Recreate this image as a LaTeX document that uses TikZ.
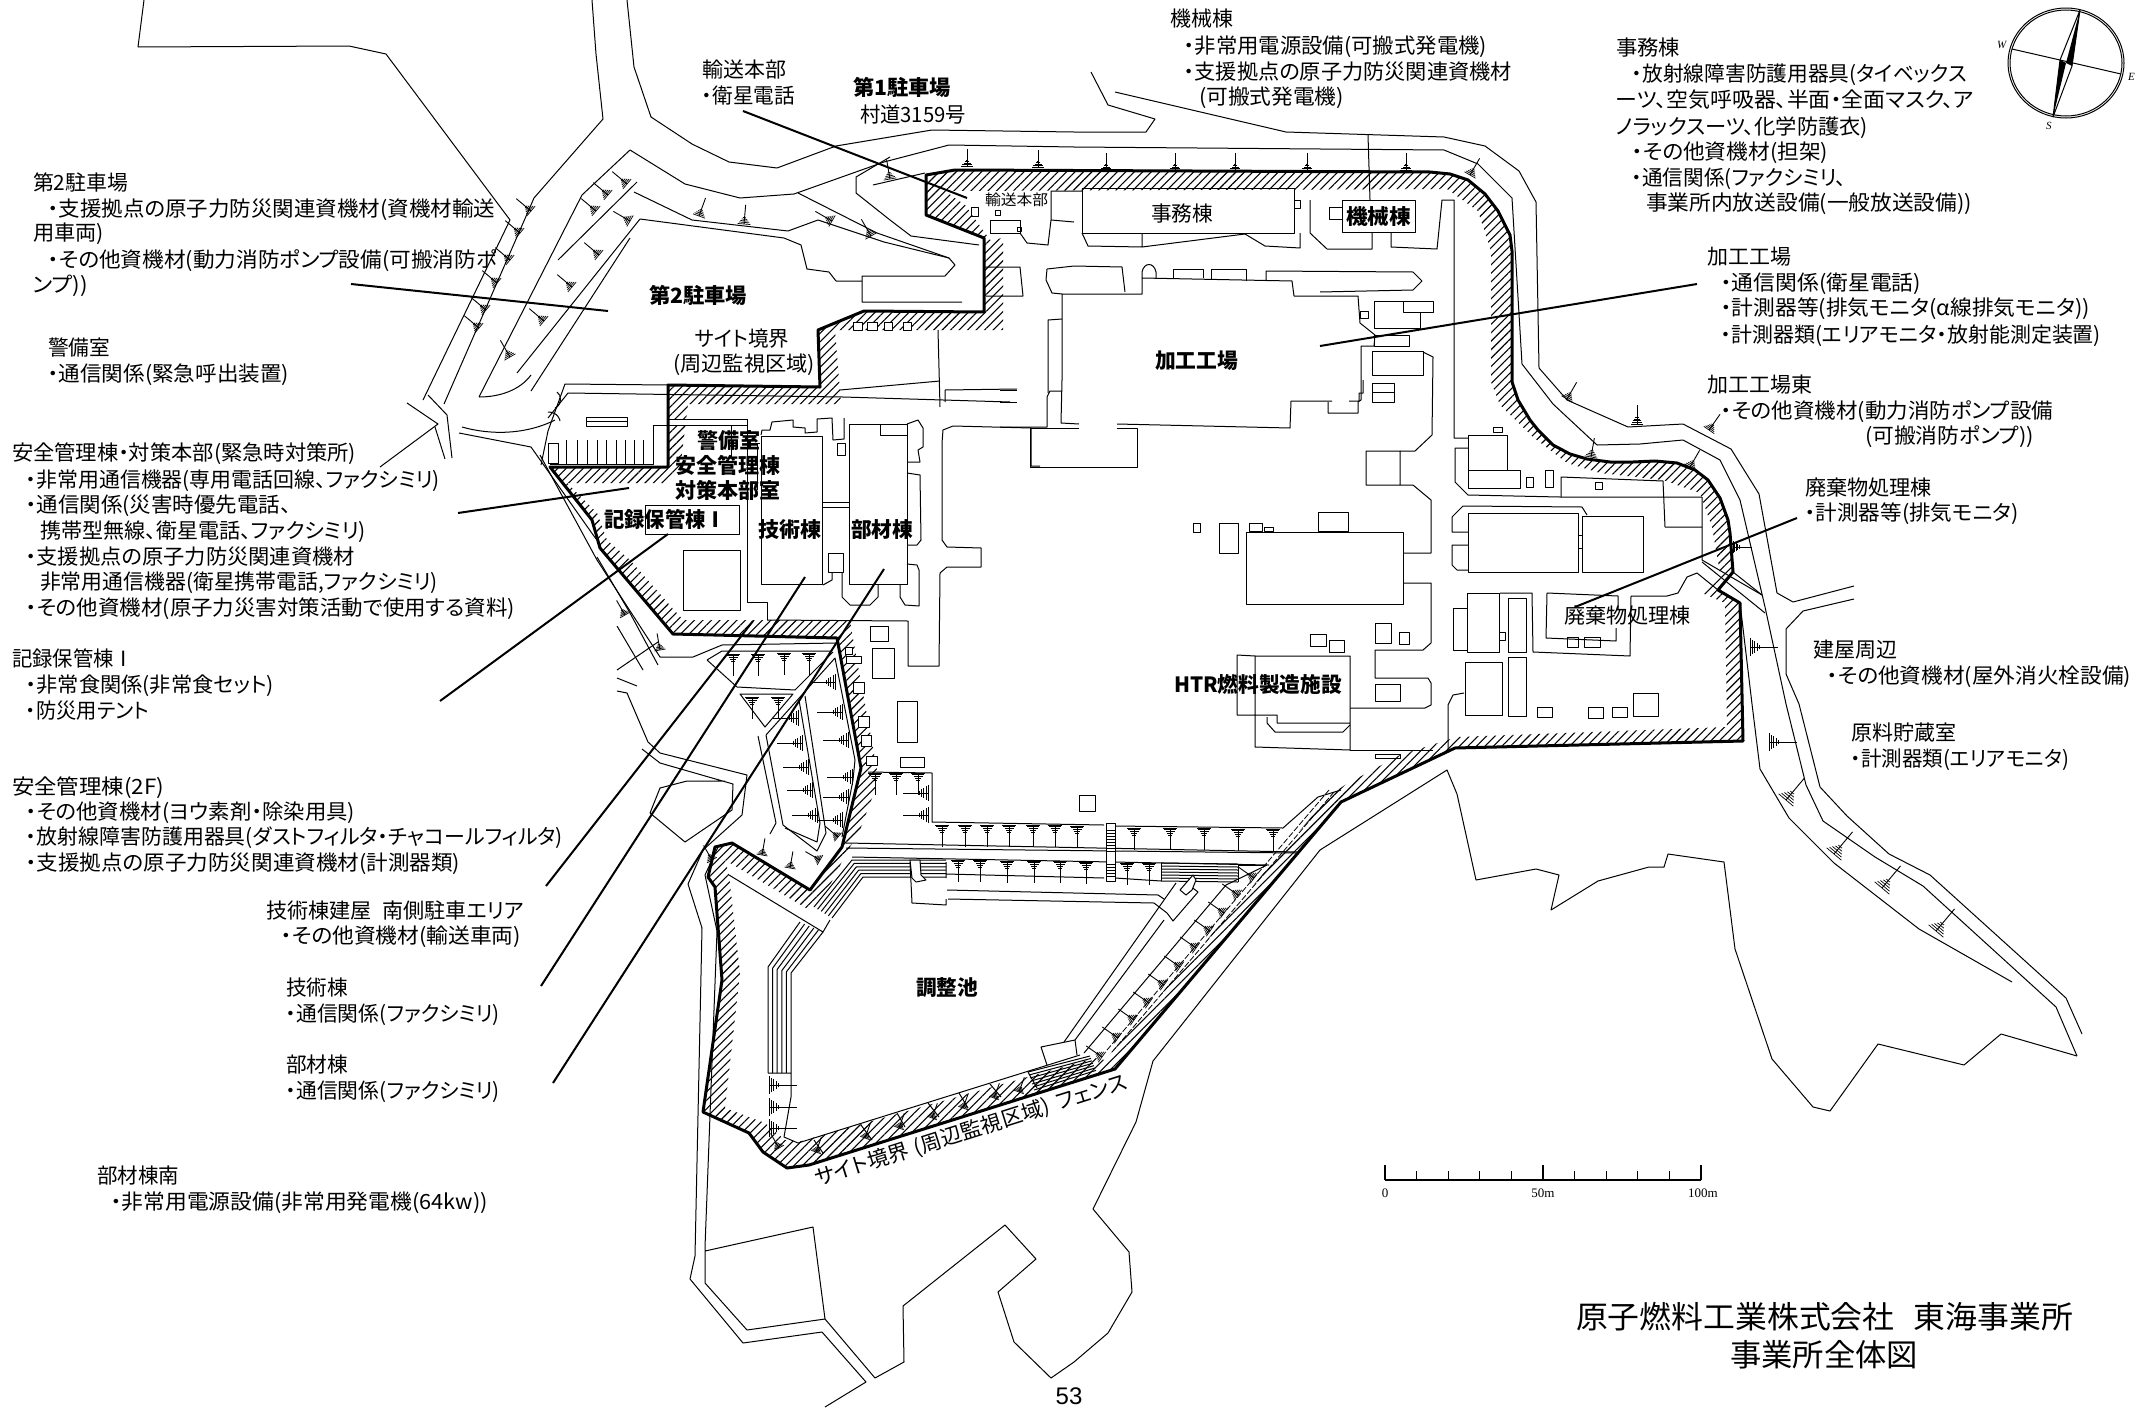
\documentclass[tikz,border=0pt]{standalone}
\usepackage{fontspec}
\usepackage{graphicx}
\usetikzlibrary{patterns.meta}
\newfontfamily\jp[RawFeature={+palt}]{Noto Sans CJK JP}
\newfontfamily\latserif{Liberation Serif}
\newfontfamily\latsans{Liberation Sans}
\newcounter{txn}
\newsavebox\fitbox
% fit text to a width given in picture pixels (1 px = 0.5pt)
\newcommand\fitw[2]{\sbox\fitbox{#2}\pgfmathsetmacro\fitsx{(#1)*0.5/\the\wd\fitbox}\scalebox{\fitsx}[1]{\usebox\fitbox}}
\newcommand\txtL[4]{\stepcounter{txn}\node[lab] (txt\thetxn) at (#1,#3+7.5) {\fitw{#2-#1}{\jp\fontsize{10.5}{12}\selectfont #4}};}
\newcommand\txtB[4]{\stepcounter{txn}\node[lab] (txt\thetxn) at (#1,#3+7.5) {\fitw{#2-#1}{\jp\bfseries\fontsize{10.5}{12}\selectfont #4}};}
\newcommand\txtH[4]{\stepcounter{txn}\node[lab] (txt\thetxn) at (#1,#3+11) {\fitw{#2-#1}{\jp\fontsize{15.5}{18}\selectfont #4}};}
% slope symbol: x y rotation scale
\newcommand\slopeT[4]{\begin{scope}[shift={(#1,#2)},rotate=#3,scale=#4]
\draw[line width=.35pt] (-8,0)--(8,0) (-6.5,2)--(6.5,2) (-5,4)--(5,4) (-3.5,6)--(3.5,6) (-2,8)--(2,8);
\draw[line width=.45pt] (0,0)--(0,24);
\end{scope}}
\newcommand\boxat[4]{\draw[fill=white] (#1,#2) rectangle (#3,#4);}
\tikzset{
 lab/.style={anchor=base west,inner sep=0pt,outer sep=0pt},
 ln/.style={line width=.5pt,line join=round},
 bound/.style={line width=1.5pt,line join=round},
 leader/.style={line width=1pt},
 hatchband/.style={pattern={Lines[angle=45,distance=3pt,line width=.55pt]},even odd rule}
}
\begin{document}
\begin{tikzpicture}[x=.5pt,y=-.5pt]
\useasboundingbox (0,0) rectangle (2147,1408);
\fill[white] (0,0) rectangle (2147,1408);
\begin{scope}[ln]
% hatch band
\fill[hatchband]
 (926,175)--(926,215)--(984,238)--(984,312)--(864,311)--(818,330)--(820,387)--(668,385)--(668,467)--(550,467)--(592,520)--(600,548)--(673,634)--(837,638)--(861,768)--(842,847)--(810,890)--(732,843)--(715,847)--(708,877)--(715,887)--(722,980)--(703,1112)--(749,1133)--(763,1152)--(787,1168)--(809,1165)--(1115,1069)--(1341,802)--(1455,748)--(1743,741)--(1740,603)--(1718,590)--(1733,572)--(1730,533)--(1728,520)--(1720,498)--(1708,480)--(1695,470)--(1677,463)--(1655,461)--(1633,462)--(1610,462)--(1587,459)--(1570,454)--(1553,445)--(1538,430)--(1530,420)--(1518,400)--(1512,382)--(1512,251)--(1510,235)--(1498,211)--(1485,194)--(1468,180)--(1450,174)--(1430,172)--(955,170)--cycle
 (945,191)--(1447,189)--(1478,211)--(1491,251)--(1491,382)--(1500,405)--(1533,437)--(1567,463)--(1600,473)--(1663,480)--(1700,493)--(1712,527)--(1720,573)--(1702,593)--(1725,603)--(1727,727)--(1457,737)--(1400,755)--(1345,785)--(1330,795)--(1105,1060)--(1095,1058)--(798,1142)--(785,1140)--(765,1123)--(725,1108)--(740,973)--(729,875)--(725,860)--(806,908)--(830,885)--(847,852)--(860,830)--(875,790)--(877,770)--(852,633)--(850,620)--(683,620)--(630,560)--(607,540)--(597,513)--(567,483)--(663,483)--(680,470)--(688,404)--(841,404)--(835,330)--(1003,330)--(1003,238)--(990,240)--(965,205)--cycle;
% contours NW
\draw (144,0)--(138,47)--(349,46)--(386,54)--(510,220)--(423,400);
\draw (592,0)--(596,54)--(603,119)--(534,198)--(444,404);
\draw (627,0)--(634,67)--(651,117)--(692,144)--(729,162)--(777,168)--(836,146)--(932,130)--(1074,132)--(1146,132)--(1155,119)--(1108,105)--(1091,72);
\draw (1115,92)--(1286,132)--(1444,137)--(1485,146)--(1519,171)--(1536,202)--(1539,368)--(1567,400)--(1628,427)--(1683,424)--(1731,449)--(1759,494)--(1777,593)--(1793,602)--(1854,586);
\draw (1854,599)--(1803,611)--(1786,629)--(1786,674)--(1799,704)--(1820,787)--(1847,816)--(1889,854)--(1930,875)--(2066,998)--(2082,1034);
\draw (1074,147)--(949,145)--(884,162)--(794,194)--(740,198)--(685,184)--(630,150)--(582,195)--(479,397);
\draw (1074,147)--(1444,150)--(1478,164)--(1512,198)--(1519,314)--(1522,364)--(1553,404)--(1597,445)--(1640,444)--(1683,440)--(1720,460)--(1740,500)--(1765,607)--(1786,704)--(1806,785)--(1823,821)--(1875,857)--(1923,886)--(2056,1007)--(2077,1056);
\draw (1740,603)--(1752,704)--(1760,769)--(1789,818)--(1834,863)--(1919,929)--(2012,982);
\draw (637,182)--(558,260);
\draw (640,219)--(517,373);
\draw (630,238)--(531,391);
\draw (479,397) .. controls (500,397) and (520,390) .. (531,375);
\draw (634,192)--(692,220)--(788,231)--(818,220)--(884,242)--(949,258)--(955,265)--(945,276)--(862,276)--(862,302)--(962,302);
\draw (640,219)--(784,238)--(801,245)--(807,269)--(829,272)--(836,281)--(862,281);
\draw (798,193)--(877,233)--(949,258);
\draw (890,157)--(856,177)--(856,193)--(890,220)--(911,236)--(979,245);
\draw (873,185)--(925,173);
% west crossing
\draw (407,403)--(438,424)--(380,467);
\draw (428,395)--(447,415)--(452,458);
\draw (435,427)--(445,459);
\draw (459,433)--(531,447)--(596,539);
\draw (462,427) .. controls (490,435) and (525,435) .. (555,420);
\draw (541,465)--(548,431)--(565,384)--(668,385);
\draw (548,418)--(568,393)--(843,397)--(1010,402);
\draw (840,390)--(940,381);
\draw (938,330)--(940,407);
\draw (945,402)--(945,390)--(1017,389);
\draw (557,392) .. controls (562,395) and (562,405) .. (555,408) (548,412) .. controls (558,412) and (560,420) .. (560,421);
% parking
\draw (550,464)--(653,464)--(653,425)--(668,425);
\draw (548,443) rectangle (558,463);
\foreach \x in {566,577,587,597,606,616,625,634,643} {\draw (\x,440)--(\x,464);}
\draw (586,417) rectangle (627,426) (586,421)--(627,421);
% west lower lines
\draw (540,455)--(597,560)--(660,657)--(693,657)--(722,645)--(837,643);
\draw (597,557)--(630,613)--(658,665);
\draw (617,626)--(643,670);
\draw (617,670)--(658,642);
\draw (617,678)--(637,686);
\draw (617,691)--(627,693)--(648,742)--(660,753)--(747,775)--(742,815)--(703,850)--(688,884)--(702,928)--(695,1256)--(690,1279)--(743,1343)--(822,1332)--(866,1382)--(825,1407);
\draw (642,749)--(660,763)--(733,784)--(732,810)--(685,842)--(650,813)--(660,788)--(687,781)--(725,781);
\draw (718,847)--(705,875)--(717,931)--(705,1247)--(705,1283)--(747,1330)--(825,1319)--(813,1227)--(705,1251);
\draw (825,1319)--(875,1378)--(904,1362)--(903,1306)--(1005,1225)--(1036,1259)--(998,1292)--(1014,1342)--(1051,1378)--(1074,1362)--(1108,1333)--(1132,1292)--(1129,1252)--(1093,1209)--(1136,1122)--(1153,1061)--(1320,850)--(1447,770)--(1457,794)--(1476,880)--(1536,869)--(1559,875)--(1551,910)--(1598,881)--(1649,867)--(1664,867)--(1668,854)--(1724,862)--(1735,949)--(1772,1059)--(1813,1107)--(1830,1111)--(1878,1044)--(1964,1065)--(2001,1034)--(2077,1056);
% lower parking island
\draw (707,660)--(722,651)--(830,651) (707,660)--(737,687)--(795,690)--(833,652);
\draw (740,694)--(793,694)--(765,727)--cycle;
\draw (766,735)--(835,658)--(855,760)--(853,780)--(842,837);
\draw (758,736)--(776,823)--(770,834);
\draw (766,735)--(783,825)--(817,851)--(826,833)--(805,696);
\draw (799,700)--(820,823)--(817,842)--(785,828);
% buildings centre-west
\draw[fill=white] (668,419)--(747,419)--(747,425)--(668,425);
\draw (747,419)--(747,602)--(767,602)--(767,620);
\draw (731,425)--(731,458);
\draw (747,443)--(760,443) (757,443)--(757,490);
\draw[fill=white] (645,505) rectangle (739,534);
\draw (683,550) rectangle (740,610);
\draw (761,436) rectangle (822,584);
\draw (761,435)--(762,430)--(770,430)--(772,422)--(793,420)--(793,427)--(805,428)--(805,433)--(817,432)--(817,419)--(832,418)--(833,440)--(844,439)--(844,418);
\draw (849,424) rectangle (907,584);
\draw (880,424)--(880,435)--(907,435);
\draw (822,502)--(849,502) (822,507)--(849,507);
\draw (828,553) rectangle (843,572);
\draw (837,443) rectangle (845,455);
\draw (907,424)--(918,420)--(923,428)--(923,447)--(918,450)--(920,462)--(907,462);
\draw (907,473)--(920,475)--(921,540)--(917,545)--(907,545);
\draw (907,564)--(917,565)--(919,570)--(919,606)--(905,605)--(900,597)--(900,584);
\draw (878,584)--(878,597)--(870,605)--(850,605)--(842,597)--(842,572);
\draw (832,572)--(832,580)--(823,585);
\draw (942,443)--(942,540)--(947,547)--(981,548)--(981,567)--(947,567)--(940,573)--(939,666)--(908,666)--(908,621)--(767,620);
\draw (942,443)--(943,430)--(953,426)--(1031,428)--(1031,466)--(1040,466);
\boxat{870}{626}{888}{641}
\boxat{872}{648}{894}{678}
\boxat{897}{701}{917}{742}
\boxat{900}{757}{924}{767}
\boxat{845}{647}{852}{654}
\boxat{846}{656}{861}{663}
\boxat{853}{682}{864}{693}
\boxat{858}{716}{869}{727}
\boxat{861}{735}{871}{746}
\boxat{866}{756}{877}{765}
\boxat{853}{322}{862}{330}
\boxat{867}{322}{877}{330}
\boxat{884}{322}{892}{330}
\boxat{903}{322}{911}{330}
% row lines
\draw (868,772)--(932,773)--(932,822)--(1104,825) (1115,826)--(1283,828)--(1318,797)--(1341,790);
\draw (846,843)--(1298,852);
\draw (846,848)--(1296,853);
\draw (852,857)--(1269,865);
\draw (946,874)--(1104,878) (946,862)--(946,878);
\draw (947,890)--(1158,895)--(1164,899);
\draw (948,899)--(1154,903)--(1167,913)--(1173,921)--(1198,892)--(1186,883);
\draw (1064,1042)--(1176,883);
\draw (1075,1040)--(1164,920);
\draw (910,862)--(912,903)--(946,905)--(946,899);
\draw (1115,878)--(1161,881);
\draw (1267,865)--(1226,885)--(1084,1053);
\boxat{1079}{795}{1095}{811}
% stairs
\foreach \i in {0,...,5} {
 \draw ({768+\i*4.6},1073)--({768+\i*4.6},{967+\i*1.2})--({800+\i*4.6},{922+\i*2});
 \draw ({814+\i*3.6},{907+\i*2.2})--({852+\i*2.2},{860+\i*3.4})--(946,{860+\i*3.4});
}
\draw (729,875)--(823,932)--(830,920);
\draw[fill=white] (910,860)--(920,860)--(921,875)--(926,880)--(916,882)--(912,878)--cycle;
\draw[fill=white] (1106,823) rectangle (1115,881);
\foreach \y in {830,833,836,839,842,845,848,851,864,867,870,873,876} {\draw (1106,\y)--(1115,\y);}
\foreach \y in {863,866,869,872,875,878,881} {\draw (1161,\y)--(1238,\y+1);}
\draw (1161,863)--(1161,881) (1238,864)--(1238,882) (1238,865)--(1267,865);
\draw[fill=white] (1186,883)--(1193,875)--(1196,880)--(1192,890)--(1186,895)--(1180,890)--cycle;
\draw (768,1073)--(791,1073)--(791,1097)--(784,1137)--(798,1143)--(1080,1055);
\draw (1047,1065)--(1041,1047)--(1075,1040)--(1077,1055);
\foreach \i in {0,...,6} {\draw ({1028+\i*1},{1072+\i*3})--({1090+\i*1},{1056+\i*2.4});}
\draw[dashed,line width=.4pt,dash pattern=on 3pt off 1pt] (1112,1052)--(1334,792);
\draw[dashed,line width=.4pt,dash pattern=on 3pt off 1pt] (1107,1050)--(1329,790);
% cross lines SW band
\foreach \a/\b/\c/\d in {1028/1072/1037/1088,990/1084/1001/1097,959/1093/968/1108,928/1103/939/1117,897/1113/905/1127,861/1125/872/1140,814/1140/823/1153} {\draw (\a,\b)--(\c,\d);}
% main plant
\draw (1062,380)--(1061,423)--(1079,424) (1117,424)--(1290,428)--(1291,401)--(1332,401) (1349,401)--(1359,401)--(1359,393)--(1363,393)--(1363,380);
\draw (1062,380)--(1062,294)--(1142,294)--(1142,278)--(1292,281)--(1294,296)--(1358,296)--(1360,323)--(1375,335)--(1374,346)--(1361,346)--(1361,400)--(1358,402)--(1358,413)--(1328,413)--(1328,402);
\draw (1374,335) rectangle (1409,346);
\draw (1030,428)--(1030,467)--(1137,467)--(1137,428)--(1117,428) (1079,428)--(1030,428);
\draw (1000,427)--(1047,427)--(1047,397)--(1050,391)--(1062,391);
\draw (1000,390)--(1017,390) (1000,402)--(1017,402);
\draw (1047,269)--(1074,266)--(1122,267)--(1125,292) (1047,269)--(1046,280)--(1052,293)--(1062,294);
\draw (1048,393)--(1048,320)--(1062,319);
\draw (1142,278)--(1142,272) .. controls (1144,262) and (1154,262) .. (1156,272)--(1156,278);
\draw (1173,278)--(1173,269)--(1203,269)--(1203,278);
\draw (1211,280)--(1211,269)--(1246,269)--(1246,281);
\draw (1266,281)--(1266,271)--(1413,272)--(1422,281)--(1413,290)--(1320,292);
\draw (1374,301)--(1433,301)--(1433,312)--(1420,312)--(1420,328)--(1374,328)--cycle (1403,301)--(1403,312)--(1433,312);
\draw (1360,311) rectangle (1368,318);
\draw (1372,351) rectangle (1423,375);
\draw (1423,352)--(1433,357)--(1432,435)--(1415,451)--(1400,451);
\draw (1366,451) rectangle (1400,485) (1400,485)--(1413,485)--(1431,500)--(1431,553)--(1403,553);
\draw (1403,583)--(1431,583)--(1431,643)--(1423,650)--(1375,650)--(1375,678)--(1428,678)--(1431,683)--(1431,705)--(1425,708)--(1350,708);
\draw (1372,383) rectangle (1394,392) (1372,392) rectangle (1394,402);
\draw (1246,532) rectangle (1403,604);
\draw (1318,512) rectangle (1348,531);
\draw (1249,523) rectangle (1262,531);
\draw (1264,527) rectangle (1273,531);
\draw (1219,523) rectangle (1238,553);
\draw (1193,523) rectangle (1200,532);
\draw (1310,634) rectangle (1326,646);
\draw (1329,640) rectangle (1344,652);
\draw (1375,623) rectangle (1391,643);
\draw (1399,632) rectangle (1409,644);
\draw (1237,655)--(1255,656)--(1255,715)--(1237,715)--cycle;
\draw (1255,656)--(1350,656)--(1350,723)--(1277,723)--(1277,715)--(1255,715)--(1255,747)--(1350,750)--(1350,723);
\draw (1267,717)--(1267,723)--(1275,732)--(1343,732)--(1350,725);
\draw (1350,750)--(1433,750);
\draw (1375,684) rectangle (1400,701);
\draw (1375,754) rectangle (1400,758);
% north buildings
\draw (1082,188) rectangle (1294,233);
\draw (1082,233)--(1088,246)--(1142,247)--(1245,234) (1142,233)--(1142,247);
\draw (1245,234)--(1265,246)--(1300,248)--(1300,233);
\draw (1310,200)--(1310,233)--(1327,249)--(1372,249)--(1372,233);
\draw (1294,200)--(1300,200)--(1300,208)--(1294,208);
\draw[fill=white] (1342,200) rectangle (1415,232);
\draw (1329,207) rectangle (1342,219);
\draw (1391,233)--(1391,247)--(1437,249)--(1442,200)--(1454,200)--(1454,438)--(1468,438);
\draw[fill=white] (990,220) rectangle (1020,233);
\draw (1017,227) rectangle (1021,231);
\draw (971,207) rectangle (978,216);
\draw (995,210) rectangle (1000,215);
\draw (1020,233)--(1027,243)--(1048,245)--(1051,220)--(1074,222) (1051,220)--(1051,191)--(1082,191);
\draw (984,267)--(1020,267)--(1023,296)--(986,296);
% east blocks
\draw (1468,435) rectangle (1507,470);
\draw (1468,470) rectangle (1520,488);
\draw (1468,448)--(1455,448)--(1455,482)--(1468,495)--(1560,497)--(1702,497);
\draw (1493,427) rectangle (1502,432);
\draw (1526,477) rectangle (1533,487);
\draw (1545,470) rectangle (1553,487);
\draw (1561,497)--(1561,477)--(1663,481)--(1665,527)--(1702,527);
\draw[fill=white] (1595,482) rectangle (1602,489);
\draw (1702,497)--(1702,560)--(1762,595);
\draw (1702,562)--(1765,613);
\draw (1733,572)--(1762,595);
\draw (1697,573)--(1687,577)--(1678,593)--(1667,596)--(1631,596)--(1630,656)--(1533,652)--(1532,593)--(1500,593);
\draw (1697,573)--(1718,590);
\draw (1468,513) rectangle (1578,572);
\draw (1582,516) rectangle (1643,572);
\draw (1578,535)--(1582,535) (1578,548)--(1582,548);
\draw (1452,517)--(1463,506)--(1582,507)--(1587,515);
\draw (1452,517)--(1452,532)--(1468,532) (1468,545)--(1452,545)--(1452,565)--(1457,570)--(1468,570);
\draw (1467,593) rectangle (1499,652);
\draw (1467,608)--(1453,608)--(1453,650)--(1467,650);
\draw (1499,632) rectangle (1505,640);
\draw (1508,598) rectangle (1526,652);
\draw (1508,657) rectangle (1526,716);
\draw (1618,610)--(1618,596)--(1547,593)--(1546,638)--(1616,641)--(1616,628);
\draw (1567,637) rectangle (1578,647);
\draw (1584,637) rectangle (1600,647);
\draw (1465,662) rectangle (1502,715);
\draw (1448,750)--(1448,705)--(1453,695)--(1464,693);
\draw (1537,707) rectangle (1552,717);
\draw (1588,707) rectangle (1603,718);
\draw (1612,707) rectangle (1627,717);
\draw (1633,693) rectangle (1658,716);
% slope symbols
\foreach \x/\y in {733/654,758/654,784/653,809/653,752/697,778/697,875/773,896/773,918/773} {\slopeT{\x}{\y}{0}{.9}}
\foreach \x/\y in {942/825,965/825,987/825,1009/825,1033/825,1055/825,1077/826,1134/828,1170/828,1204/828,1238/829,1273/829,958/860,980/860,1007/861,1034/861,1060/861,1086/862,1127/863,1149/863} {\slopeT{\x}{\y}{0}{.9}}
\foreach \x/\y in {835/682,842/712,848/740,852/777,848/797,842/820,798/718,802/743,808/767,812/790,817/815,928/793,928/815} {\slopeT{\x}{\y}{-90}{1.05}}
\foreach \x/\y in {769/1085,769/1107,769/1128,1769/742,1750/647} {\slopeT{\x}{\y}{90}{1.15}}
\foreach \x/\y in {1786/800,1834/854,1882/888,1936/931} {\slopeT{\x}{\y}{140}{1.2}}
\foreach \x/\y in {1254/878,1238/895,1224/913,1210/931,1196/948,1180/967,1164/985,1149/1003,1134/1020,1118/1038,1102/1057} {\slopeT{\x}{\y}{-125}{.8}}
\foreach \x/\y in {1019/1092,994/1098,963/1108,932/1118,899/1128,865/1138,816/1152} {\slopeT{\x}{\y}{160}{.65}}
\foreach \x/\y in {1106/170,1175/170,1235/170,1307/170,1406/170,967/166,1038/167} {\slopeT{\x}{\y}{180}{.7}}
\foreach \x/\y/\r in {1470/175/150,1567/399/150,1637/424/180,1709/430/145,1591/457/170,1690/467/150,890/179/190,699/216/160,744/224/175,832/221/240,871/236/210,627/184/-130,608/195/-130,596/211/-130,630/221/-120,599/255/-130,572/287/-130,544/321/-130,510/357/-150,531/211/-130,520/233/-130,510/260/-130,497/283/-130,486/310/-130,479/328/-130,1733/547/90} {\slopeT{\x}{\y}{\r}{.8}}
\foreach \x/\y/\r in {625/615/-150,660/650/-170,779/1148/-150,838/837/-130,762/855/170,712/860/-150,790/868/170,820/860/-120} {\slopeT{\x}{\y}{\r}{.7}}
% boundary
\draw[bound] (926,175)--(926,215)--(984,238)--(984,312)--(864,311)--(818,330)--(820,387)--(668,385)--(668,467)--(550,467)--(592,520)--(600,548)--(673,634)--(837,638)--(861,768)--(842,847)--(810,890)--(732,843)--(715,847)--(708,877)--(715,887)--(722,980)--(703,1112)--(749,1133)--(763,1152)--(787,1168)--(809,1165)--(1115,1069)--(1341,802)--(1455,748)--(1743,741)--(1740,603)--(1718,590)--(1733,572)--(1730,533)--(1728,520)--(1720,498)--(1708,480)--(1695,470)--(1677,463)--(1655,461)--(1633,462)--(1610,462)--(1587,459)--(1570,454)--(1553,445)--(1538,430)--(1530,420)--(1518,400)--(1512,382)--(1512,251)--(1510,235)--(1498,211)--(1485,194)--(1468,180)--(1450,174)--(1430,172)--(955,170)--cycle;
% leaders
\coordinate (la1) at (743,111); \coordinate (lb1) at (967,198);
\coordinate (la2) at (351,284); \coordinate (lb2) at (608,311);
\coordinate (la3) at (458,513); \coordinate (lb3) at (629,488);
\coordinate (la4) at (668,534); \coordinate (lb4) at (440,701);
\coordinate (la5) at (753,621); \coordinate (lb5) at (546,886);
\coordinate (la6) at (805,577); \coordinate (lb6) at (541,986);
\coordinate (la7) at (884,569); \coordinate (lb7) at (553,1083);
\coordinate (la8) at (1320,346); \coordinate (lb8) at (1697,284);
\coordinate (la9) at (1575,607); \coordinate (lb9) at (1797,518);
\coordinate (la10) at (1368,135); \coordinate (lb10) at (1370,200);
\foreach \i in {1,...,9} {\draw[leader] (la\i)--(lb\i);}
\draw (la10)--(lb10);
% scale bar
\draw[line width=.7pt] (1385,1180)--(1701,1180);
\foreach \x in {1385,1543,1701} {\draw[line width=.7pt] (\x,1165)--(\x,1180);}
\foreach \x in {1416.6,1448.2,1479.8,1511.4,1574.6,1606.2,1637.8,1669.4} {\draw (\x,1171)--(\x,1180);}
% compass
\draw (2066,63) ellipse [x radius=58,y radius=55];
\draw (2066,63) ellipse [x radius=56,y radius=53];
\draw (2012,49)--(2121,74);
\draw (2080,10)--(2060,60)--(2053,117)--(2072,66)--cycle;
\fill (2080,10)--(2066,63)--(2072,66)--cycle;
\fill (2053,117)--(2066,63)--(2060,60)--cycle;
\end{scope}
% labels
\stepcounter{txn}\node[lab] (txt\thetxn) at (1997,48) {\latserif\itshape\fontsize{5.5}{6}\selectfont W};
\stepcounter{txn}\node[lab] (txt\thetxn) at (2128,80) {\latserif\itshape\fontsize{5.5}{6}\selectfont E};
\stepcounter{txn}\node[lab] (txt\thetxn) at (2046,129) {\latserif\itshape\fontsize{5.5}{6}\selectfont S};
\stepcounter{txn}\node[lab,anchor=base] (txt\thetxn) at (1385,1197) {\latserif\fontsize{6.5}{7}\selectfont 0};
\stepcounter{txn}\node[lab,anchor=base] (txt\thetxn) at (1543,1197) {\latserif\fontsize{6.5}{7}\selectfont 50m};
\stepcounter{txn}\node[lab,anchor=base] (txt\thetxn) at (1703,1197) {\latserif\fontsize{6.5}{7}\selectfont 100m};
\stepcounter{txn}\node[lab,anchor=base] (txt\thetxn) at (1069,1404) {\latsans\fontsize{12}{14}\selectfont 53};
\txtL{33}{128}{183}{第2駐車場}
\txtL{48}{495}{209}{・支援拠点の原子力防災関連資機材(資機材輸送}
\txtL{33}{104}{233}{用車両)}
\txtL{48}{497}{260}{・その他資機材(動力消防ポンプ設備(可搬消防ポ}
\txtL{33}{88}{285}{ンプ))}
\txtL{48}{110}{348}{警備室}
\txtL{48}{289}{374}{・通信関係(緊急呼出装置)}
\txtL{12}{356}{453}{安全管理棟・対策本部(緊急時対策所)}
\txtL{26}{440}{480}{・非常用通信機器(専用電話回線、ファクシミリ)}
\txtL{26}{291}{505}{・通信関係(災害時優先電話、}
\txtL{40}{366}{531}{携帯型無線、衛星電話、ファクシミリ)}
\txtL{26}{355}{557}{・支援拠点の原子力防災関連資機材}
\txtL{40}{438}{582}{非常用通信機器(衛星携帯電話,ファクシミリ)}
\txtL{26}{515}{608}{・その他資機材(原子力災害対策活動で使用する資料)}
\txtL{12}{134}{659}{記録保管棟Ⅰ}
\txtL{26}{274}{685}{・非常食関係(非常食セット)}
\txtL{26}{149}{711}{・防災用テント}
\txtL{12}{164}{787}{安全管理棟(2F)}
\txtL{26}{355}{812}{・その他資機材(ヨウ素剤・除染用具)}
\txtL{26}{563}{837}{・放射線障害防護用器具(ダストフィルタ・チャコールフィルタ)}
\txtL{26}{460}{863}{・支援拠点の原子力防災関連資機材(計測器類)}
\txtL{266}{524}{911}{技術棟建屋\hspace{.5em}南側駐車エリア}
\txtL{281}{521}{936}{・その他資機材(輸送車両)}
\txtL{286}{348}{988}{技術棟}
\txtL{286}{500}{1014}{・通信関係(ファクシミリ)}
\txtL{286}{348}{1065}{部材棟}
\txtL{286}{500}{1091}{・通信関係(ファクシミリ)}
\txtL{97}{179}{1176}{部材棟南}
\txtL{111}{488}{1202}{・非常用電源設備(非常用発電機(64kw))}
\txtL{702}{786}{70}{輸送本部}
\txtL{702}{795}{96}{・衛星電話}
\txtB{853}{951}{88}{第1駐車場}
\txtL{860}{966}{115}{村道3159号}
\txtB{649}{747}{296}{第2駐車場}
\txtL{695}{789}{339}{サイト境界}
\txtL{673}{815}{364}{(周辺監視区域)}
\stepcounter{txn}\node[lab] (txt\thetxn) at (985,205) {\fitw{63}{\jp\fontsize{7.5}{9}\selectfont 輸送本部}};
\txtB{697}{760}{441}{警備室}
\txtB{675}{780}{466}{安全管理棟}
\txtB{675}{780}{491}{対策本部室}
\txtB{604}{726}{520}{記録保管棟Ⅰ}
\txtB{758}{821}{530}{技術棟}
\txtB{851}{913}{530}{部材棟}
\txtB{1155}{1238}{361}{加工工場}
\txtL{1151}{1213}{214}{事務棟}
\txtB{1346}{1411}{217}{機械棟}
\txtB{1174}{1342}{685}{HTR燃料製造施設}
\txtL{1564}{1691}{616}{廃棄物処理棟}
\txtB{916}{978}{988}{調整池}
\txtL{1170}{1233}{19}{機械棟}
\txtL{1184}{1487}{46}{・非常用電源設備(可搬式発電機)}
\txtL{1184}{1512}{72}{・支援拠点の原子力防災関連資機材}
\txtL{1199}{1344}{97}{(可搬式発電機)}
\txtL{1616}{1680}{48}{事務棟}
\txtL{1632}{1967}{74}{・放射線障害防護用器具(タイベックス}
\txtL{1616}{1974}{100}{ーツ、空気呼吸器、半面・全面マスク、ア}
\txtL{1616}{1868}{127}{ノラックスーツ、化学防護衣)}
\txtL{1632}{1828}{152}{・その他資機材(担架)}
\txtL{1632}{1846}{178}{・通信関係(ファクシミリ、}
\txtL{1646}{1972}{203}{事業所内放送設備(一般放送設備))}
\txtL{1707}{1791}{257}{加工工場}
\txtL{1721}{1921}{283}{・通信関係(衛星電話)}
\txtL{1721}{2090}{308}{・計測器等(排気モニタ(α線排気モニタ))}
\txtL{1721}{2101}{335}{・計測器類(エリアモニタ・放射能測定装置)}
\txtL{1707}{1812}{385}{加工工場東}
\txtL{1721}{2053}{411}{・その他資機材(動力消防ポンプ設備}
\txtL{1865}{2034}{436}{(可搬消防ポンプ))}
\txtL{1805}{1932}{488}{廃棄物処理棟}
\txtL{1805}{2019}{513}{・計測器等(排気モニタ)}
\txtL{1813}{1897}{650}{建屋周辺}
\txtL{1827}{2131}{676}{・その他資機材(屋外消火栓設備)}
\txtL{1851}{1956}{733}{原料貯蔵室}
\txtL{1851}{2069}{759}{・計測器類(エリアモニタ)}
\txtH{1576}{2073}{1317}{原子燃料工業株式会社\hspace{.6em}東海事業所}
\txtH{1730}{1918}{1355}{事業所全体図}
\stepcounter{txn}\node[inner sep=0pt,rotate=17.5] (txt\thetxn) at (971,1131) {\fitw{326}{\jp\fontsize{10.5}{12}\selectfont サイト境界\hspace{.3em}(周辺監視区域)\hspace{.4em}フェンス}};
\end{tikzpicture}
\end{document}
